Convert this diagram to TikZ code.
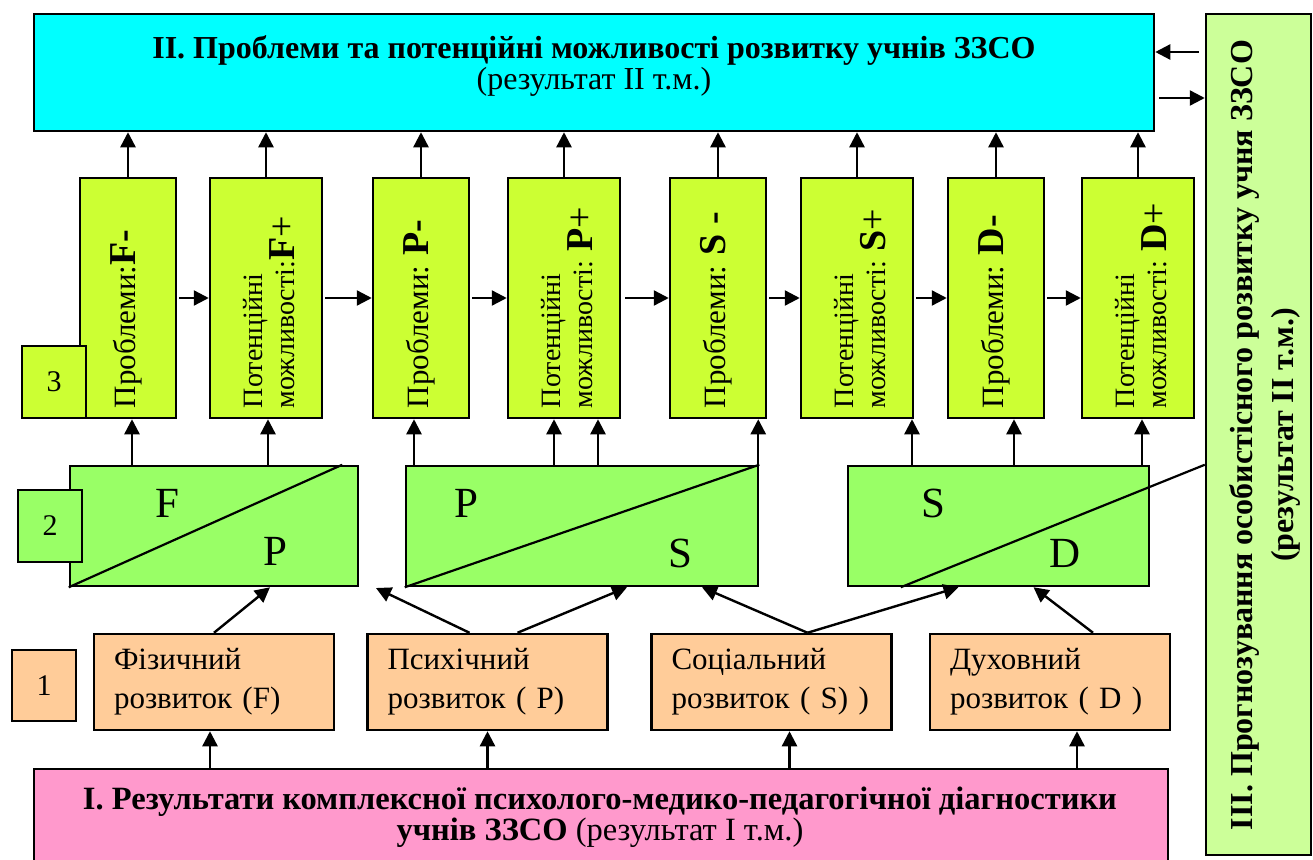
\documentclass[tikz,border=0pt]{standalone}
\usepackage{fontspec}
\setmainfont{Liberation Serif}
\usetikzlibrary{arrows.meta,calc}
\definecolor{cyanc}{HTML}{00FFFF}
\definecolor{yel}{HTML}{CCFF33}
\definecolor{grn}{HTML}{99FF66}
\definecolor{peach}{HTML}{FFCC99}
\definecolor{pinkc}{HTML}{FF99CC}
\definecolor{lgreen}{HTML}{CCFF99}
\newcommand{\fsTitle}{\fontsize{32}{41}\selectfont}
\newcommand{\fsBot}{\fontsize{32.5}{34}\selectfont}
\newcommand{\fsRow}{\fontsize{31}{39}\selectfont}
\newcommand{\fsProb}{\fontsize{31}{36}\selectfont}
\newcommand{\fsPot}{\fontsize{28}{40}\selectfont}
\newcommand{\fsBig}{\fontsize{38}{40}\selectfont}
\newcommand{\fsLet}{\fontsize{43}{44}\selectfont}
\newcommand{\fsLab}{\fontsize{30}{34}\selectfont}
\begin{document}
\begin{tikzpicture}[x=1pt,y=-1pt,
  box/.style={draw=black, line width=2.5pt, inner sep=0pt},
  rthree/.style={box, fill=yel, minimum height=240pt, minimum width=#1},
  rtwo/.style={box, fill=grn, minimum height=120pt, minimum width=#1},
  rone/.style={box, fill=peach, minimum height=96pt, minimum width=240pt, text width=200pt, align=left, font=\fsRow},
  lab/.style={box, minimum width=64pt, minimum height=72pt, font=\fsLab},
  rot/.style={rotate=90, anchor=west, inner sep=0pt, align=left},
  let/.style={inner sep=0pt, font=\fsLet},
  arr/.style={line width=2.4pt, -{Triangle[length=15pt,width=15pt]}},
  ln/.style={line width=2.2pt}]
\useasboundingbox (0,0) rectangle (1313,859);
\fill[white] (0,0) rectangle (1313,859);

% top box and right box
\node[box, fill=cyanc, minimum width=1120pt, minimum height=117pt] (top) at (594,72.5) {};
\node[align=center, inner sep=0pt] (toptext) at (594,66) {\fsTitle\textbf{II. Проблеми та потенційні можливості розвитку учнів ЗЗСО}\\\fsTitle(результат II т.м.)};
\node[box, fill=lgreen, minimum width=105pt, minimum height=841pt] (rb) at (1258.5,434.5) {};
\node[rotate=90, align=center, inner sep=0pt, font=\fsTitle\bfseries] (rbtext) at (1265,435) {III. Прогнозування особистісного розвитку учня ЗЗСО\\(результат II т.м.)};

% row 3
\node[rthree=96pt]  (b1) at (128,298) {};
\node[rthree=112pt] (b2) at (266,298) {};
\node[rthree=96pt]  (b3) at (421,298) {};
\node[rthree=112pt] (b4) at (564,298) {};
\node[rthree=96pt]  (b5) at (718,298) {};
\node[rthree=112pt] (b6) at (857,298) {};
\node[rthree=96pt]  (b7) at (996,298) {};
\node[rthree=112pt] (b8) at (1138,298) {};
\node[rot] (t1) at ([xshift=-2pt,yshift=11pt]b1.south) {\fsProb Проблеми:\fsBig\textbf{F-}};
\node[rot] (t2) at ([xshift=3pt,yshift=11pt]b2.south) {\fsPot Потенційні\\\fsPot можливості:\fsBig\textbf{F}+};
\node[rot] (t3) at ([xshift=-2pt,yshift=11pt]b3.south) {\fsProb Проблеми: \fsBig\textbf{P-}};
\node[rot] (t4) at ([xshift=3pt,yshift=11pt]b4.south) {\fsPot Потенційні\\\fsPot можливості: \fsBig\textbf{P}+};
\node[rot] (t5) at ([xshift=-2pt,yshift=11pt]b5.south) {\fsProb Проблеми: \fsBig\textbf{S -}};
\node[rot] (t6) at ([xshift=3pt,yshift=11pt]b6.south) {\fsPot Потенційні\\\fsPot можливості: \fsBig\textbf{S}+};
\node[rot] (t7) at ([xshift=-2pt,yshift=11pt]b7.south) {\fsProb Проблеми: \fsBig\textbf{D-}};
\node[rot] (t8) at ([xshift=3pt,yshift=11pt]b8.south) {\fsPot Потенційні\\\fsPot можливості: \fsBig\textbf{D}+};
\node[lab, fill=yel] (l3) at (54,382) {3};

% row 2
\node[rtwo=288pt] (A) at (214,526) {};
\node[rtwo=352pt] (B) at (582,526) {};
\node[rtwo=301pt] (C) at (998.5,526) {};
\draw[ln] (A.south west) -- ([xshift=-17pt]A.north east);
\draw[ln] (B.south west) -- (B.north east);
\coordinate (cdiag) at ([xshift=54pt]C.south west);
\draw[ln] (cdiag) -- (rb.west |- C.north);
\node[let] (AF) at (167,503) {F};
\node[let] (AP) at (275,551) {P};
\node[let] (BP) at (466,503) {P};
\node[let] (BS) at (680,553) {S};
\node[let] (CS) at (933,503) {S};
\node[let] (CD) at (1065,553) {D};
\node[lab, fill=grn] (l2) at (50,526) {2};

% row 1
\node[rone] (F) at (214,682) {Фізичний\\розвиток (F)};
\node[rone] (P) at (487.5,682) {Психічний\\розвиток ( P)};
\node[rone] (S) at (771.5,682) {Соціальний\\розвиток ( S) )};
\node[rone] (D) at (1050,682) {Духовний\\розвиток ( D )};
\node[lab, fill=peach, minimum height=71pt] (l1) at (44,685.5) {1};

% bottom box
\node[box, fill=pinkc, minimum width=1134pt, minimum height=110pt] (bot) at (601,824) {};
\node[align=center, inner sep=0pt] (bottext) at (600,817) {\fsBot\textbf{I. Результати комплексної психолого-медико-педагогічної діагностики}\\\fsBot\textbf{учнів ЗЗСО} (результат I т.м.)};

% arrows row 3 -> top
\foreach \b in {b1,b2,b3,b4,b5,b6,b7,b8} \draw[arr] (\b.north) -- (\b.north |- top.south);
% horizontal arrows
\draw[arr] ([xshift=2pt]b1.east) -- (b2.west);
\draw[arr] ([xshift=2pt]b2.east) -- (b3.west);
\draw[arr] ([xshift=2pt]b3.east) -- (b4.west);
\draw[arr] ([xshift=4pt]b4.east) -- (b5.west);
\draw[arr] ([xshift=2pt]b5.east) -- (b6.west);
\draw[arr] ([xshift=2pt]b6.east) -- (b7.west);
\draw[arr] ([xshift=2pt]b7.east) -- (b8.west);

% arrows row 2 -> row 3
\draw[arr] ([xshift=4pt]b1.south |- A.north) -- ([xshift=4pt]b1.south);
\draw[arr] ([xshift=2pt]b2.south |- A.north) -- ([xshift=2pt]b2.south);
\draw[arr] ([xshift=-7pt]b3.south |- B.north) -- ([xshift=-7pt]b3.south);
\draw[arr] ([xshift=-10pt]b4.south |- B.north) -- ([xshift=-10pt]b4.south);
\draw[arr] ([xshift=34pt]b4.south |- B.north) -- ([xshift=34pt]b4.south);
\draw[arr] ([xshift=-1pt]B.north east) -- ([xshift=-1pt]B.north east |- b5.south);
\draw[arr] ([xshift=55pt]b6.south |- C.north) -- ([xshift=55pt]b6.south);
\draw[arr] ([xshift=18pt]b7.south |- C.north) -- ([xshift=18pt]b7.south);
\draw[arr] ([xshift=4pt]b8.south |- C.north) -- ([xshift=4pt]b8.south);

% arrows row 1 -> row 2
\coordinate (free) at (376,588);
\draw[arr] (F.north) -- ([xshift=56pt]A.south);
\draw[arr] ([xshift=-18pt]P.north) -- (free);
\draw[arr] ([xshift=30pt]P.north) -- ([xshift=45pt]B.south);
\draw[arr] ([xshift=36pt]S.north) -- ([xshift=120pt]B.south);
\draw[arr] ([xshift=36pt]S.north) -- ([xshift=-40pt]C.south);
\draw[arr] ([xshift=43pt]D.north) -- ([xshift=35pt]C.south);

% arrows bottom -> row 1
\draw[arr] ([xshift=-4pt]F.south |- bot.north) -- ([xshift=-4pt]F.south);
\draw[arr] (P.south |- bot.north) -- (P.south);
\draw[arr] ([xshift=18pt]S.south |- bot.north) -- ([xshift=18pt]S.south);
\draw[arr] ([xshift=27pt]D.south |- bot.north) -- ([xshift=27pt]D.south);

% arrows between top box and right box
\coordinate (ya) at (0,52);
\coordinate (yb) at (0,98);
\draw[arr] ([xshift=-6pt]rb.west |- ya) -- (top.east |- ya);
\draw[arr] ([xshift=4pt]top.east |- yb) -- (rb.west |- yb);
\end{tikzpicture}
\end{document}
